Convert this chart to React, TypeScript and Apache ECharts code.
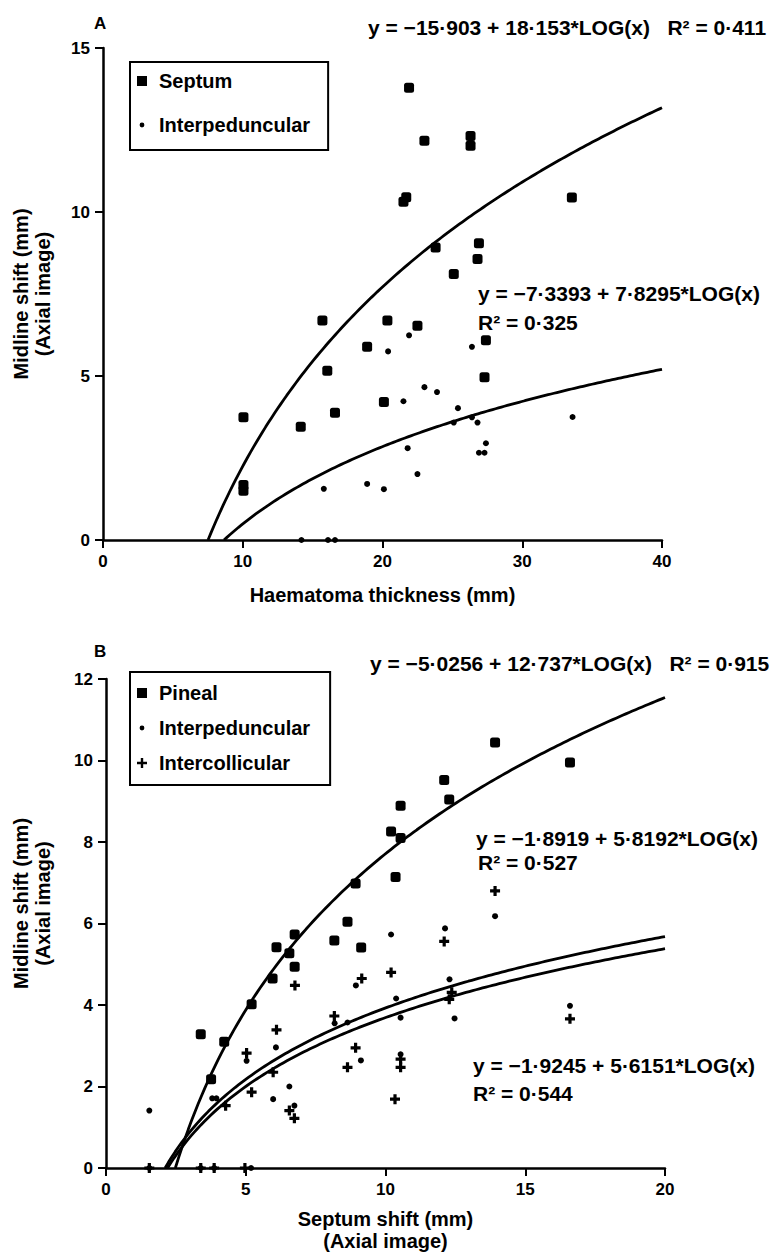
import React, { useEffect, useRef } from "react";
import * as echarts from "echarts";

const FONT = '"Liberation Sans", Arial, Helvetica, sans-serif';

// ---------- Panel A: midline shift vs haematoma thickness ----------
const septumA: [number, number][] = [
  [10.05, 3.74], [10.05, 1.5], [10.05, 1.68], [14.15, 3.45], [15.7, 6.69],
  [16.05, 5.16], [16.6, 3.88], [18.9, 5.89], [20.1, 4.21], [20.35, 6.69],
  [21.5, 10.31], [21.7, 10.45], [21.9, 13.79], [22.5, 6.53], [23.0, 12.17],
  [23.8, 8.92], [25.1, 8.11], [26.3, 12.32], [26.3, 12.02], [26.8, 8.57],
  [26.9, 9.05], [27.3, 4.96], [27.4, 6.09], [33.55, 10.44],
];
const interpedA: [number, number][] = [
  [21.9, 6.24], [20.4, 5.75], [26.4, 5.89], [23.0, 4.66], [23.9, 4.51],
  [21.5, 4.23], [25.4, 4.02], [25.1, 3.58], [26.4, 3.74], [26.8, 3.58],
  [27.4, 2.95], [26.9, 2.66], [27.3, 2.66], [21.8, 2.8], [22.5, 2.01],
  [15.8, 1.56], [18.9, 1.71], [20.1, 1.55], [14.2, 0], [16.1, 0], [16.6, 0],
  [33.6, 3.75],
];
// fitted curves printed on panel A: y = a + b*LOG(x)
const fitAIntercept = [-15.903, -7.3393];
const fitASlope = [18.153, 7.8295];

// ---------- Panel B: midline shift vs septum shift ----------
const pinealB: [number, number][] = [
  [3.39, 3.28], [3.76, 2.18], [4.23, 3.1], [5.21, 4.02], [5.96, 4.65],
  [6.1, 5.42], [6.56, 5.27], [6.75, 5.73], [6.75, 4.94], [8.17, 5.58],
  [8.64, 6.04], [9.13, 5.41], [8.93, 6.98], [10.36, 7.14], [10.2, 8.26],
  [10.54, 8.1], [10.54, 8.89], [12.1, 9.52], [12.28, 9.04], [13.92, 10.44],
  [16.6, 9.95],
];
const interpedB: [number, number][] = [
  [1.55, 1.41], [1.55, 0], [3.39, 0], [3.87, 0], [5.19, 0], [3.8, 1.71],
  [3.95, 1.71], [5.03, 2.63], [6.08, 2.96], [5.98, 1.69], [6.56, 2.0],
  [6.74, 1.53], [8.18, 3.55], [8.64, 3.57], [8.94, 4.48], [9.12, 2.64],
  [10.2, 5.73], [10.38, 4.16], [10.54, 3.69], [10.54, 2.79], [12.13, 5.88],
  [12.29, 4.63], [12.47, 3.67], [13.92, 6.18], [16.6, 3.98],
];
const intercollB: [number, number][] = [
  [1.55, 0], [3.39, 0], [3.87, 0], [4.97, 0], [4.28, 1.53], [5.03, 2.82],
  [5.21, 1.86], [5.98, 2.35], [6.1, 3.39], [6.56, 1.41], [6.74, 1.22],
  [6.76, 4.48], [8.17, 3.73], [8.64, 2.47], [8.93, 2.95], [9.15, 4.65],
  [10.2, 4.8], [10.34, 1.69], [10.54, 2.67], [10.54, 2.47], [12.1, 5.56],
  [12.37, 4.31], [12.28, 4.14], [13.92, 6.8], [16.6, 3.66],
];
const fitBIntercept = [-5.0256, -1.8919, -1.9245];
const fitBSlope = [12.737, 5.8192, 5.6151];

// axis ranges / labels
const xRangeA = [0, 40, 10];
const yRangeA = [0, 15, 5];
const xRangeB = [0, 20, 5];
const yRangeB = [0, 12, 2];

const eqA = [
  "y = −15·903 + 18·153*LOG(x)   R² = 0·411",
  "y = −7·3393 + 7·8295*LOG(x)",
  "R² = 0·325",
];
const eqB = [
  "y = −5·0256 + 12·737*LOG(x)   R² = 0·915",
  "y = −1·8919 + 5·8192*LOG(x)",
  "R² = 0·527",
  "y = −1·9245 + 5·6151*LOG(x)",
  "R² = 0·544",
];

function logCurve(a: number, b: number, xMax: number) {
  const x0 = Math.pow(10, -a / b);
  const pts: [number, number][] = [];
  const n = 150;
  for (let i = 0; i <= n; i++) {
    const x = x0 + ((xMax - x0) * i) / n;
    pts.push([x, Math.max(0, a + b * Math.log10(x))]);
  }
  return pts;
}

const PLUS = "path://M3.4,0H6.6V3.4H10V6.6H6.6V10H3.4V6.6H0V3.4H3.4Z";
const ICON_SQ = "path://M0,0M18,12M1,1H11V11H1Z";
const ICON_DOT = "path://M0,0M18,12M6,3.6A2.4,2.4,0,1,1,6,8.4A2.4,2.4,0,1,1,6,3.6Z";
const ICON_PLUS = "path://M0,0M18,12M4.8,1H7.2V4.8H11V7.2H7.2V11H4.8V7.2H1V4.8H4.8Z";

export default function App() {
  const ref = useRef<HTMLDivElement>(null);
  useEffect(() => {
    if (!ref.current) return;
    const chart = echarts.init(ref.current, undefined, { renderer: "svg" });

    const axisCommon = {
      type: "value" as const,
      nameLocation: "middle" as const,
      axisLine: { show: true, onZero: false, lineStyle: { color: "#000", width: 2.5 } },
      axisTick: { show: true, length: 8, lineStyle: { color: "#000", width: 2 } },
      axisLabel: { color: "#000", fontFamily: FONT, fontSize: 17, fontWeight: "bold", margin: 13 },
      splitLine: { show: false },
      nameTextStyle: { color: "#000", fontFamily: FONT, fontSize: 20, fontWeight: "bold", lineHeight: 22 },
    };

    const lineStyle = { color: "#000", width: 2.8 };
    const fitSeries = (a: number[], b: number[], xMax: number, idx: number) =>
      a.map((ai, i) => ({
        type: "line",
        name: "fit" + idx + "_" + i,
        xAxisIndex: idx,
        yAxisIndex: idx,
        data: logCurve(ai, b[i], xMax),
        showSymbol: false,
        symbol: "none",
        lineStyle,
        silent: true,
        z: 3,
      }));

    const textStyle = (t: string, x: number, y: number, size = 21) => ({
      type: "text",
      x,
      y,
      style: {
        text: t,
        fill: "#000",
        fontFamily: FONT,
        fontSize: size,
        fontWeight: "bold",
        verticalAlign: "middle",
        align: "left",
      },
    });

    const legendText = { fontFamily: FONT, fontSize: 20, fontWeight: "bold", color: "#000", lineHeight: 20 };
    const mark = { color: "#000", opacity: 1 };

    chart.setOption({
      animation: false,
      backgroundColor: "#fff",
      grid: [
        { left: 103, top: 48, width: 559, height: 492 },
        { left: 106, top: 679, width: 559, height: 490 },
      ],
      xAxis: [
        { ...axisCommon, gridIndex: 0, min: xRangeA[0], max: xRangeA[1], interval: xRangeA[2], name: "Haematoma thickness (mm)", nameGap: 44 },
        { ...axisCommon, gridIndex: 1, min: xRangeB[0], max: xRangeB[1], interval: xRangeB[2], name: "Septum shift (mm)\n(Axial image)", nameGap: 40 },
      ],
      yAxis: [
        { ...axisCommon, gridIndex: 0, min: yRangeA[0], max: yRangeA[1], interval: yRangeA[2], name: "Midline shift (mm)\n(Axial image)", nameGap: 49 },
        {
          ...axisCommon, gridIndex: 1, min: yRangeB[0], max: yRangeB[1], interval: yRangeB[2], name: "Midline shift (mm)\n(Axial image)", nameGap: 52,
          nameTextStyle: { ...axisCommon.nameTextStyle, padding: [0, 0, 0, 40] },
        },
      ],
      legend: [
        {
          left: 130, top: 62, orient: "vertical", selectedMode: false,
          data: [{ name: "Septum", icon: ICON_SQ }, { name: "Interpeduncular", icon: ICON_DOT }],
          itemWidth: 18, itemHeight: 12, itemGap: 24,
          borderColor: "#000", borderWidth: 2, padding: [9, 18, 15, 6],
          textStyle: legendText,
        },
        {
          left: 130, top: 672, orient: "vertical", selectedMode: false,
          data: [{ name: "Pineal", icon: ICON_SQ }, { name: "Interpeduncular", icon: ICON_DOT }, { name: "Intercollicular", icon: ICON_PLUS }],
          itemWidth: 18, itemHeight: 12, itemGap: 15,
          borderColor: "#000", borderWidth: 2, padding: [11, 20, 12, 6],
          textStyle: legendText,
        },
      ],
      series: [
        { type: "scatter", name: "Septum", xAxisIndex: 0, yAxisIndex: 0, data: septumA, symbol: "roundRect", symbolSize: 10, itemStyle: mark, z: 4 },
        { type: "scatter", name: "Interpeduncular", xAxisIndex: 0, yAxisIndex: 0, data: interpedA, symbol: "circle", symbolSize: 6, itemStyle: mark, z: 4 },
        ...fitSeries(fitAIntercept, fitASlope, xRangeA[1], 0),
        { type: "scatter", name: "Pineal", xAxisIndex: 1, yAxisIndex: 1, data: pinealB, symbol: "roundRect", symbolSize: 10, itemStyle: mark, z: 4 },
        { type: "scatter", name: "Interpeduncular", xAxisIndex: 1, yAxisIndex: 1, data: interpedB, symbol: "circle", symbolSize: 6, itemStyle: mark, z: 4 },
        { type: "scatter", name: "Intercollicular", xAxisIndex: 1, yAxisIndex: 1, data: intercollB, symbol: PLUS, symbolSize: 10, itemStyle: mark, z: 4 },
        ...fitSeries(fitBIntercept, fitBSlope, xRangeB[1], 1),
      ],
      graphic: [
        textStyle("A", 94, 23, 17),
        textStyle(eqA[0], 368, 27),
        textStyle(eqA[1], 478, 293),
        textStyle(eqA[2], 478, 322),
        textStyle("B", 94, 651, 17),
        textStyle(eqB[0], 370, 663),
        textStyle(eqB[1], 476, 838),
        textStyle(eqB[2], 478, 862),
        textStyle(eqB[3], 473, 1065),
        textStyle(eqB[4], 473, 1093),
      ],
    });
    return () => chart.dispose();
  }, []);

  return (
    <div
      ref={ref}
      style={{ position: "absolute", left: 0, top: 0, width: 771, height: 1253, background: "#fff" }}
    />
  );
}
